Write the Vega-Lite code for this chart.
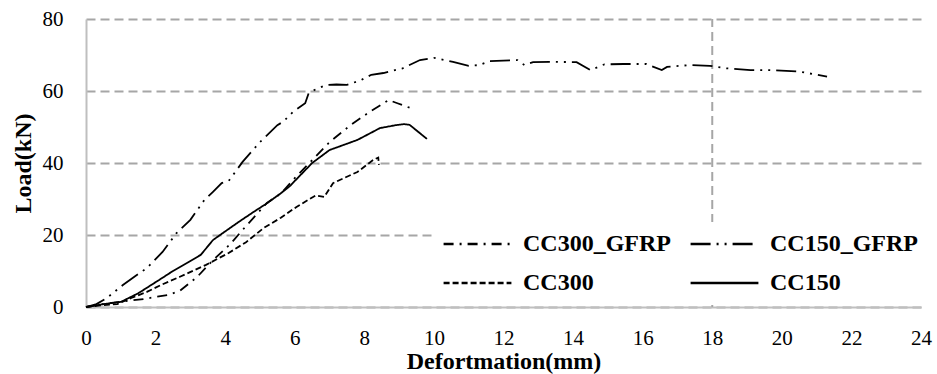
{
  "$schema": "https://vega.github.io/schema/vega-lite/v6.json",
  "width": 835,
  "height": 288,
  "autosize": {"type": "none"},
  "padding": {"left": 86, "top": 19, "right": 16, "bottom": 67},
  "background": "white",
  "config": {"view": {"stroke": null}, "font": "Liberation Serif, Times New Roman, serif"},
  "datasets": {
    "curves": [
      {"series": "CC150_GFRP", "x": 0, "y": 0},
      {"series": "CC150_GFRP", "x": 0.3, "y": 0.8},
      {"series": "CC150_GFRP", "x": 0.6, "y": 2.5},
      {"series": "CC150_GFRP", "x": 1.06, "y": 6.1},
      {"series": "CC150_GFRP", "x": 1.4, "y": 8.5},
      {"series": "CC150_GFRP", "x": 1.75, "y": 10.8},
      {"series": "CC150_GFRP", "x": 2.2, "y": 15.3},
      {"series": "CC150_GFRP", "x": 2.6, "y": 20.5},
      {"series": "CC150_GFRP", "x": 3.0, "y": 24.2},
      {"series": "CC150_GFRP", "x": 3.4, "y": 29.7},
      {"series": "CC150_GFRP", "x": 3.65, "y": 32},
      {"series": "CC150_GFRP", "x": 3.9, "y": 34.4},
      {"series": "CC150_GFRP", "x": 4.1, "y": 35},
      {"series": "CC150_GFRP", "x": 4.5, "y": 40.3},
      {"series": "CC150_GFRP", "x": 5.0, "y": 45.8},
      {"series": "CC150_GFRP", "x": 5.5, "y": 50.5},
      {"series": "CC150_GFRP", "x": 5.67, "y": 51.5},
      {"series": "CC150_GFRP", "x": 5.95, "y": 54.2},
      {"series": "CC150_GFRP", "x": 6.3, "y": 56.6},
      {"series": "CC150_GFRP", "x": 6.4, "y": 59.4},
      {"series": "CC150_GFRP", "x": 6.5, "y": 60},
      {"series": "CC150_GFRP", "x": 6.9, "y": 61.7},
      {"series": "CC150_GFRP", "x": 7.2, "y": 61.8},
      {"series": "CC150_GFRP", "x": 7.5, "y": 61.7},
      {"series": "CC150_GFRP", "x": 7.9, "y": 63},
      {"series": "CC150_GFRP", "x": 8.2, "y": 64.5},
      {"series": "CC150_GFRP", "x": 8.55, "y": 65},
      {"series": "CC150_GFRP", "x": 9.1, "y": 66.3},
      {"series": "CC150_GFRP", "x": 9.6, "y": 68.6},
      {"series": "CC150_GFRP", "x": 10.0, "y": 69.2},
      {"series": "CC150_GFRP", "x": 10.55, "y": 68.1},
      {"series": "CC150_GFRP", "x": 11.0, "y": 67.0},
      {"series": "CC150_GFRP", "x": 11.3, "y": 67.2},
      {"series": "CC150_GFRP", "x": 11.6, "y": 68.3},
      {"series": "CC150_GFRP", "x": 12.4, "y": 68.6},
      {"series": "CC150_GFRP", "x": 12.6, "y": 67.2},
      {"series": "CC150_GFRP", "x": 12.85, "y": 68},
      {"series": "CC150_GFRP", "x": 13.5, "y": 68.1},
      {"series": "CC150_GFRP", "x": 14.1, "y": 68},
      {"series": "CC150_GFRP", "x": 14.5, "y": 65.8},
      {"series": "CC150_GFRP", "x": 14.9, "y": 67.4},
      {"series": "CC150_GFRP", "x": 15.45, "y": 67.5},
      {"series": "CC150_GFRP", "x": 16.1, "y": 67.5},
      {"series": "CC150_GFRP", "x": 16.55, "y": 65.8},
      {"series": "CC150_GFRP", "x": 16.7, "y": 66.7},
      {"series": "CC150_GFRP", "x": 17.35, "y": 67.2},
      {"series": "CC150_GFRP", "x": 17.93, "y": 67.0},
      {"series": "CC150_GFRP", "x": 18.4, "y": 66.3},
      {"series": "CC150_GFRP", "x": 19.1, "y": 65.8},
      {"series": "CC150_GFRP", "x": 19.65, "y": 65.8},
      {"series": "CC150_GFRP", "x": 20.5, "y": 65.4},
      {"series": "CC150_GFRP", "x": 21.3, "y": 64},
      {"series": "CC300_GFRP", "x": 0, "y": 0},
      {"series": "CC300_GFRP", "x": 0.5, "y": 0.8},
      {"series": "CC300_GFRP", "x": 1.0, "y": 1.5},
      {"series": "CC300_GFRP", "x": 1.65, "y": 2.2},
      {"series": "CC300_GFRP", "x": 2.0, "y": 2.8},
      {"series": "CC300_GFRP", "x": 2.35, "y": 3.3},
      {"series": "CC300_GFRP", "x": 2.7, "y": 4.5},
      {"series": "CC300_GFRP", "x": 3.2, "y": 8.4},
      {"series": "CC300_GFRP", "x": 3.65, "y": 13},
      {"series": "CC300_GFRP", "x": 4.15, "y": 17.5},
      {"series": "CC300_GFRP", "x": 4.5, "y": 21.4},
      {"series": "CC300_GFRP", "x": 5.2, "y": 28.9},
      {"series": "CC300_GFRP", "x": 5.6, "y": 31.5},
      {"series": "CC300_GFRP", "x": 5.95, "y": 35.3},
      {"series": "CC300_GFRP", "x": 6.5, "y": 40.8},
      {"series": "CC300_GFRP", "x": 7.0, "y": 45.8},
      {"series": "CC300_GFRP", "x": 7.6, "y": 50.5},
      {"series": "CC300_GFRP", "x": 8.15, "y": 54.2},
      {"series": "CC300_GFRP", "x": 8.7, "y": 57.5},
      {"series": "CC300_GFRP", "x": 8.95, "y": 56.6},
      {"series": "CC300_GFRP", "x": 9.4, "y": 55},
      {"series": "CC300", "x": 0, "y": 0},
      {"series": "CC300", "x": 0.5, "y": 0.5},
      {"series": "CC300", "x": 0.9, "y": 0.8},
      {"series": "CC300", "x": 1.3, "y": 2.5},
      {"series": "CC300", "x": 1.75, "y": 4.2},
      {"series": "CC300", "x": 2.2, "y": 6.3},
      {"series": "CC300", "x": 2.7, "y": 8.4},
      {"series": "CC300", "x": 3.45, "y": 11.7},
      {"series": "CC300", "x": 4.1, "y": 15},
      {"series": "CC300", "x": 4.6, "y": 18},
      {"series": "CC300", "x": 5.1, "y": 21.9},
      {"series": "CC300", "x": 5.6, "y": 24.8},
      {"series": "CC300", "x": 6.05, "y": 27.8},
      {"series": "CC300", "x": 6.6, "y": 31},
      {"series": "CC300", "x": 6.85, "y": 30.6},
      {"series": "CC300", "x": 7.1, "y": 34.4},
      {"series": "CC300", "x": 7.8, "y": 37.5},
      {"series": "CC300", "x": 8.25, "y": 40.8},
      {"series": "CC300", "x": 8.4, "y": 41.5},
      {"series": "CC300", "x": 8.42, "y": 39.5},
      {"series": "CC150", "x": 0, "y": 0},
      {"series": "CC150", "x": 0.5, "y": 0.8},
      {"series": "CC150", "x": 1.0, "y": 1.4},
      {"series": "CC150", "x": 1.5, "y": 3.8},
      {"series": "CC150", "x": 2.1, "y": 7.5},
      {"series": "CC150", "x": 2.5, "y": 10},
      {"series": "CC150", "x": 2.9, "y": 12.2},
      {"series": "CC150", "x": 3.3, "y": 14.5},
      {"series": "CC150", "x": 3.65, "y": 18.6},
      {"series": "CC150", "x": 4.0, "y": 21},
      {"series": "CC150", "x": 4.4, "y": 23.7},
      {"series": "CC150", "x": 4.8, "y": 26.3},
      {"series": "CC150", "x": 5.2, "y": 28.8},
      {"series": "CC150", "x": 5.6, "y": 31.6},
      {"series": "CC150", "x": 5.85, "y": 33.5},
      {"series": "CC150", "x": 6.15, "y": 36.5},
      {"series": "CC150", "x": 6.5, "y": 40},
      {"series": "CC150", "x": 7.0, "y": 43.6},
      {"series": "CC150", "x": 7.8, "y": 46.4},
      {"series": "CC150", "x": 8.45, "y": 49.7},
      {"series": "CC150", "x": 8.9, "y": 50.5},
      {"series": "CC150", "x": 9.15, "y": 50.8},
      {"series": "CC150", "x": 9.3, "y": 50.6},
      {"series": "CC150", "x": 9.8, "y": 46.7}
    ]
  },
  "layer": [
    {
      "data": {"values": [{"x": 18, "y0": 0, "y1": 80}]},
      "mark": {"type": "rule", "color": "#a6a6a6", "strokeWidth": 2, "strokeDash": [9, 5]},
      "encoding": {
        "x": {"field": "x", "type": "quantitative", "scale": {"domain": [0, 24]}},
        "y": {"field": "y0", "type": "quantitative", "scale": {"domain": [0, 80]}},
        "y2": {"field": "y1"}
      }
    },
    {
      "data": {"name": "curves"},
      "mark": {"type": "line", "color": "black", "strokeWidth": 1.8},
      "encoding": {
        "x": {
          "field": "x", "type": "quantitative",
          "scale": {"domain": [0, 24], "nice": false},
          "axis": {
            "values": [0, 2, 4, 6, 8, 10, 12, 14, 16, 18, 20, 22, 24],
            "title": "Defortmation(mm)", "grid": false, "ticks": false,
            "domainColor": "#bfbfbf", "domainWidth": 2,
            "labelFont": "Liberation Serif, Times New Roman, serif", "labelFontSize": 21, "labelColor": "black", "labelPadding": 20,
            "labelFlush": false, "labelOverlap": false,
            "titleFont": "Liberation Serif, Times New Roman, serif", "titleFontSize": 24, "titleFontWeight": "bold", "titleColor": "black", "titlePadding": 1
          }
        },
        "y": {
          "field": "y", "type": "quantitative",
          "scale": {"domain": [0, 80], "nice": false},
          "axis": {
            "values": [0, 20, 40, 60, 80],
            "title": "Load(kN)", "grid": true, "gridDash": [9, 5], "gridColor": "#a6a6a6", "gridWidth": 2,
            "ticks": false, "domainColor": "#bfbfbf", "domainWidth": 2,
            "labelFont": "Liberation Serif, Times New Roman, serif", "labelFontSize": 21, "labelColor": "black", "labelPadding": 23,
            "labelFlush": false, "labelOverlap": false,
            "titleFont": "Liberation Serif, Times New Roman, serif", "titleFontSize": 24, "titleFontWeight": "bold", "titleColor": "black", "titlePadding": 7
          }
        },
        "strokeDash": {
          "field": "series", "type": "nominal",
          "sort": ["CC300_GFRP", "CC150_GFRP", "CC300", "CC150"],
          "scale": {
            "domain": ["CC300_GFRP", "CC150_GFRP", "CC300", "CC150"],
            "range": [[10, 6, 2, 6], [20, 6, 2, 6, 2, 6], [6, 3], [1, 0]]
          },
          "legend": {
            "orient": "none", "legendX": 346, "legendY": 203,
            "direction": "horizontal", "columns": 2, "title": null,
            "fillColor": "white", "padding": 10, "clipHeight": 24,
            "symbolType": "stroke", "symbolSize": 4600, "symbolStrokeColor": "black", "symbolStrokeWidth": 2.5,
            "labelFont": "Liberation Serif, Times New Roman, serif", "labelFontSize": 24, "labelFontWeight": "bold", "labelColor": "black",
            "labelOffset": 10, "labelLimit": 300, "columnPadding": 18, "rowPadding": 15
          }
        }
      }
    }
  ]
}
